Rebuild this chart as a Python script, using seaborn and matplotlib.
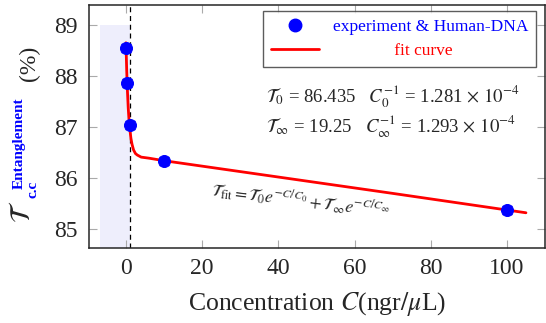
import numpy as np
import pandas as pd
import seaborn as sns
import matplotlib.pyplot as plt
from matplotlib.lines import Line2D

sns.set_style("ticks")
plt.rcParams['font.family'] = ['Liberation Serif', 'DejaVu Serif']
plt.rcParams['mathtext.fontset'] = 'stix'

# measured points
conc = [0.0, 0.3, 1.0, 10.0, 100.0]
ent = [88.55, 87.86, 87.04, 86.34, 85.38]
err = [0.08, 0.08, 0.08, 0.08, 0.08]

# fit curve
fit_c = [0.0, 0.2, 0.4, 0.6, 0.8, 1.0, 1.3, 1.6, 2.0, 2.5, 3.0, 4.0, 6.0, 10.0, 40.0, 70.0, 105.0]
fit_t = [88.65, 88.10, 87.69, 87.37, 87.14, 86.97, 86.78, 86.66, 86.55, 86.48, 86.45,
         86.41, 86.39, 86.34, 86.02, 85.70, 85.32]

df = pd.DataFrame({'C': conc, 'T': ent})
fit = pd.DataFrame({'C': fit_c, 'T': fit_t})

fig = plt.figure(figsize=(5.46, 3.23), dpi=100)
ax = fig.add_axes([89/546, 1-248/323, 456/546, 243/323])

ax.set_xlim(-9.7, 110)
ax.set_ylim(84.63, 89.39)

# shaded low-concentration band + dashed marker
ax.fill_betweenx([84.63, 89.0], -6.8, 1.0, color='#eeeefc', lw=0, zorder=0)
ax.axvline(1.0, color='black', ls=(0, (4, 3)), lw=0.9, zorder=1)

sns.lineplot(data=fit, x='C', y='T', sort=False, color='red', lw=2, ax=ax, zorder=2)
ax.errorbar(df['C'], df['T'], yerr=err, fmt='none', ecolor='blue', elinewidth=1, capsize=3.5, zorder=3)
sns.scatterplot(data=df, x='C', y='T', color='blue', s=75, edgecolor='blue', ax=ax, zorder=4)

ax.set_xticks([0, 20, 40, 60, 80, 100])
ax.set_yticks([85, 86, 87, 88, 89])
ax.tick_params(direction='in', length=6, color='#aaaaaa', labelsize=17,
               top=True, right=True)
ax.tick_params(axis='y', pad=8)
ax.tick_params(axis='x', pad=7)
for s in ax.spines.values():
    s.set_linewidth(1.1)
ax.set_xlabel(r'Concentration $C$(ngr$/\mu$L)', fontsize=18.5, labelpad=8)
ax.set_ylabel('')

# legend
handles = [Line2D([], [], marker='o', ls='none', color='blue', markersize=9),
           Line2D([], [], color='red', lw=2)]
leg = ax.legend(handles, ['experiment & Human-DNA', '              fit curve'], loc='upper right',
                bbox_to_anchor=(0.981, 0.975), borderaxespad=0, fontsize=12.5, frameon=True,
                fancybox=False, edgecolor='#333333', handlelength=2.8, borderpad=0.45,
                labelspacing=0.45, handletextpad=0.8)
leg.get_frame().set_linewidth(1)
leg.get_texts()[0].set_color('blue')
leg.get_texts()[1].set_color('red')

ax.text(36.8, 87.59, r'$\mathcal{T}_0$ = 86.435   $C_0^{-1}$ = 1.281 $\times$ $10^{-4}$',
        fontsize=13.5, va='center')
ax.text(36.8, 87.00, r'$\mathcal{T}_\infty$ = 19.25   $C_\infty^{-1}$ = 1.293 $\times$ $10^{-4}$',
        fontsize=13.5, va='center')
ax.text(46, 85.55, r'$\mathcal{T}_{\rm fit} = \mathcal{T}_0 e^{-C/C_0} + \mathcal{T}_\infty e^{-C/C_\infty}$',
        fontsize=12.5, rotation=-7, ha='center', va='center', rotation_mode='anchor')

# y label pieces
fig.text(24/546, 1-212/323, r'$\mathcal{T}$', rotation=90, fontsize=20, ha='center', va='center')
fig.text(19/546, 1-143/323, 'Entanglement', rotation=90, fontsize=11, fontweight='bold',
         color='blue', ha='center', va='center')
fig.text(33/546, 1-189/323, 'c.c', rotation=90, fontsize=11, fontweight='bold',
         color='blue', ha='center', va='center')
fig.text(29/546, 1-63/323, '(%)', rotation=90, fontsize=17, ha='center', va='center')

fig.savefig('out.png', dpi=100)
